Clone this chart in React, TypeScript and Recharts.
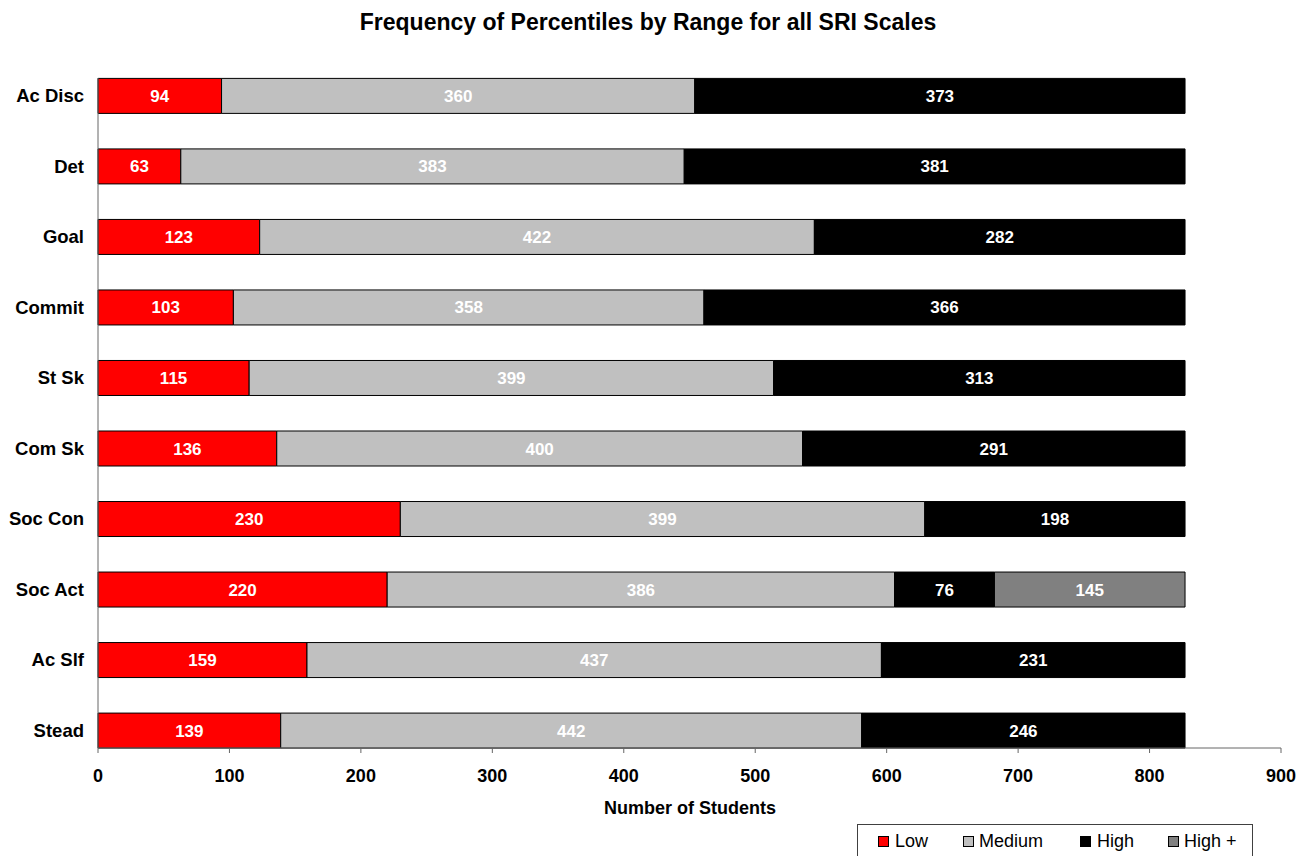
import React from 'react';
import { BarChart, Bar, XAxis, YAxis, LabelList, Legend } from 'recharts';

const categories = ['Ac Disc', 'Det', 'Goal', 'Commit', 'St Sk', 'Com Sk', 'Soc Con', 'Soc Act', 'Ac Slf', 'Stead'];
const lowValues = [94, 63, 123, 103, 115, 136, 230, 220, 159, 139];
const mediumValues = [360, 383, 422, 358, 399, 400, 399, 386, 437, 442];
const highValues = [373, 381, 282, 366, 313, 291, 198, 76, 231, 246];
const highPlusValues: (number | null)[] = [null, null, null, null, null, null, null, 145, null, null];
const xTicks = [0, 100, 200, 300, 400, 500, 600, 700, 800, 900];

const seriesNames = ['Low', 'Medium', 'High', 'High +'];
const seriesColors = ['#FF0000', '#C0C0C0', '#000000', '#808080'];

const data = categories.map((name, i) => ({
  name,
  low: lowValues[i],
  medium: mediumValues[i],
  high: highValues[i],
  highPlus: highPlusValues[i],
}));

const FONT = '"Liberation Sans", Arial, sans-serif';

const labelFmt = (v: any) => (v === null || v === undefined ? '' : String(v));

const LegendBox = () => {
  const squares = [20, 105, 222, 310];
  const texts = [37, 121, 239, 326];
  return (
    <div
      style={{
        position: 'relative',
        width: 396,
        height: 40,
        border: '1px solid #404040',
        boxSizing: 'border-box',
        background: '#fff',
        fontFamily: FONT,
      }}
    >
      {seriesNames.map((n, i) => (
        <React.Fragment key={n}>
          <div
            style={{
              position: 'absolute',
              left: squares[i],
              top: 11,
              width: 11,
              height: 11,
              background: seriesColors[i],
              border: '1px solid #000',
              boxSizing: 'border-box',
            }}
          />
          <div
            style={{
              position: 'absolute',
              left: texts[i],
              top: 6,
              fontSize: 18,
              lineHeight: '21px',
              color: '#000',
              whiteSpace: 'nowrap',
            }}
          >
            {n}
          </div>
        </React.Fragment>
      ))}
    </div>
  );
};

export default function App() {
  return (
    <div style={{ position: 'absolute', left: 0, top: 0, width: 1312, height: 856, background: '#fff', overflow: 'hidden' }}>
      <BarChart
        width={1312}
        height={856}
        data={data}
        layout="vertical"
        margin={{ top: 78, right: 31, bottom: 0, left: 0 }}
        barSize={35}
        style={{ fontFamily: FONT }}
      >
        <text x={648} y={30} textAnchor="middle" fontSize={23} fontWeight="bold" fill="#000" fontFamily={FONT}>
          Frequency of Percentiles by Range for all SRI Scales
        </text>
        <text x={690} y={814} textAnchor="middle" fontSize={18} fontWeight="bold" fill="#000" fontFamily={FONT}>
          Number of Students
        </text>
        <XAxis
          type="number"
          domain={[0, 900]}
          ticks={xTicks}
          interval={0}
          height={108}
          axisLine={{ stroke: '#666', strokeWidth: 1 }}
          tickLine={{ stroke: '#666', strokeWidth: 1 }}
          tickSize={5}
          tickMargin={16}
          tick={{ fontSize: 18, fontWeight: 'bold', fill: '#000', fontFamily: FONT }}
        />
        <YAxis
          type="category"
          dataKey="name"
          width={98}
          padding={{ top: -17.6, bottom: -17.6 }}
          axisLine={{ stroke: '#666', strokeWidth: 1 }}
          tickLine={false}
          tickSize={6}
          tickMargin={8}
          tick={{ fontSize: 18.5, fontWeight: 'bold', fill: '#000', fontFamily: FONT }}
        />
        <Legend
          layout="horizontal"
          verticalAlign="middle"
          align="center"
          content={() => <LegendBox />}
          wrapperStyle={{ position: 'absolute', left: 857, top: 824, width: 396, height: 40 }}
        />
        <Bar dataKey="low" name="Low" stackId="a" fill={seriesColors[0]} stroke="#000" strokeWidth={1} isAnimationActive={false}>
          <LabelList dataKey="low" position="center" fill="#fff" fontSize={17} fontWeight="bold" fontFamily={FONT} formatter={labelFmt} />
        </Bar>
        <Bar dataKey="medium" name="Medium" stackId="a" fill={seriesColors[1]} stroke="#000" strokeWidth={1} isAnimationActive={false}>
          <LabelList dataKey="medium" position="center" fill="#fff" fontSize={17} fontWeight="bold" fontFamily={FONT} formatter={labelFmt} />
        </Bar>
        <Bar dataKey="high" name="High" stackId="a" fill={seriesColors[2]} stroke="#000" strokeWidth={1} isAnimationActive={false}>
          <LabelList dataKey="high" position="center" fill="#fff" fontSize={17} fontWeight="bold" fontFamily={FONT} formatter={labelFmt} />
        </Bar>
        <Bar dataKey="highPlus" name="High +" stackId="a" fill={seriesColors[3]} stroke="#000" strokeWidth={1} isAnimationActive={false}>
          <LabelList dataKey="highPlus" position="center" fill="#fff" fontSize={17} fontWeight="bold" fontFamily={FONT} formatter={labelFmt} />
        </Bar>
      </BarChart>
    </div>
  );
}
